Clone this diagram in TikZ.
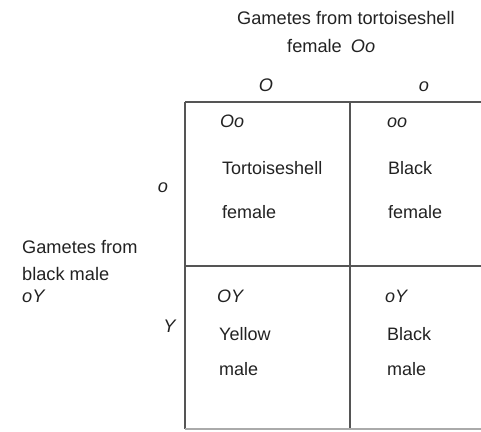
\documentclass[tikz,border=0pt]{standalone}
\usepackage{fontspec}
\setmainfont{Liberation Sans}
\definecolor{ink}{HTML}{222222}
\definecolor{rule}{HTML}{555555}
\definecolor{faint}{HTML}{AAAAAA}
\begin{document}
\begin{tikzpicture}[x=1pt,y=-1pt,
  lab/.style={anchor=base west,inner sep=0pt,text=ink,font=\fontsize{18.2}{21}\selectfont},
  cell/.style={anchor=base west,inner sep=0pt,text=ink,font=\fontsize{18}{21}\selectfont},
  gridline/.style={draw=rule,line width=1.4pt}]
\useasboundingbox (0,0) rectangle (481,431);
% header
\node[lab] (h1) at (237,24) {Gametes from tortoiseshell};
\node[lab] (h2) at (287,52) {female\enspace\textit{Oo}};
\node[lab,anchor=base] (cO) at (266,91) {\textit{O}};
\node[lab,anchor=base] (co) at (424,91) {\textit{o}};
% left
\node[lab,anchor=base] (ro) at (163,192) {\textit{o}};
\node[lab] (l1) at (22,253) {Gametes from};
\node[lab] (l2) at (22,280) {black male};
\node[lab] (l3) at (22,302) {\textit{oY}};
\node[lab,anchor=base] (rY) at (170,332) {\textit{Y}};
% grid
\coordinate (tl) at (185,102);
\coordinate (tm) at (350,102);
\coordinate (tr) at (481,102);
\coordinate (ml) at (185,266);
\coordinate (mr) at (481,266);
\coordinate (bl) at (185,429);
\coordinate (bm) at (350,429);
\coordinate (br) at (481,429);
\draw[gridline] (tl) -- (tr);
\draw[gridline] (tl) -- (bl);
\draw[gridline] (tm) -- (bm);
\draw[gridline] (ml) -- (mr);
\draw[draw=faint,line width=1.2pt] (bl) -- (br);
% cells
\node[cell] (a1) at (220,127) {\textit{Oo}};
\node[cell] (a2) at (222,174) {Tortoiseshell};
\node[cell] (a3) at (222,218) {female};
\node[cell] (b1) at (387,127) {\textit{oo}};
\node[cell] (b2) at (388,174) {Black};
\node[cell] (b3) at (388,218) {female};
\node[cell] (c1) at (217,302) {\textit{OY}};
\node[cell] (c2) at (219,340) {Yellow};
\node[cell] (c3) at (219,375) {male};
\node[cell] (d1) at (385,302) {\textit{oY}};
\node[cell] (d2) at (387,340) {Black};
\node[cell] (d3) at (387,375) {male};
\end{tikzpicture}
\end{document}
